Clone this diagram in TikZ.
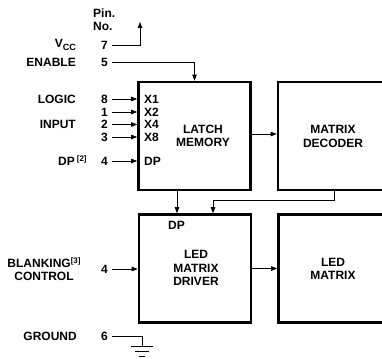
\documentclass[tikz,border=0pt]{standalone}
\usepackage{fontspec}
\setmainfont{Liberation Sans}
\usetikzlibrary{arrows.meta, positioning}

\begin{document}
\begin{tikzpicture}[x=1pt,y=-1pt,
  blk/.style={draw, line width=2.6pt, minimum width=112pt, minimum height=108pt, inner sep=0pt},
  txt/.style={font=\bfseries\fontsize{12}{13.5}\selectfont, align=center, inner sep=0pt},
  lbl/.style={font=\bfseries\fontsize{12}{13.5}\selectfont, inner sep=0pt, text height=8.6pt, text depth=0pt},
  num/.style={lbl, anchor=east},
  wire/.style={line width=0.8pt},
  sig/.style={wire, -{Triangle[length=6pt,width=4.5pt]}},
  sup/.style={}]
\useasboundingbox (0,0) rectangle (382,358);
\clip (0,0) rectangle (382,358);
% blocks
\node[blk] (latch) at (194.5,136) {};
\node[blk] (dec) at (334,136) {};
\node[blk] (drv) at (195,268.5) {};
\node[blk] (ledm) at (334.5,268.5) {};
\node[txt] (latchtxt) at (203,136) {LATCH\\MEMORY};
\node[txt] (dectxt) at (333,136.5) {MATRIX\\DECODER};
\node[txt] (drvtxt) at (196,268) {LED\\MATRIX\\DRIVER};
\node[txt] (ledmtxt) at (333,269) {LED\\MATRIX};
% inputs inside latch
\node[lbl, anchor=west] (x1) at (144,99) {X1};
\node[lbl, anchor=west] (x2) at (144,112) {X2};
\node[lbl, anchor=west] (x4) at (144,124.5) {X4};
\node[lbl, anchor=west] (x8) at (144,137) {X8};
\node[lbl, anchor=west] (dpin) at (144,161) {DP};
\node[lbl] (dpdrv) at (176.5,225) {DP};
% pin numbers
\node[lbl, anchor=west] (pin) at (93,13) {Pin.};
\node[lbl, anchor=west] (pno) at (93,26) {No.};
\node[num] (p7) at (108,45) {7};
\node[num] (p5) at (108,62) {5};
\node[num] (p8) at (108,99) {8};
\node[num] (p1) at (108,112) {1};
\node[num] (p2) at (108,124.5) {2};
\node[num] (p3) at (108,137) {3};
\node[num] (p4) at (108,161) {4};
\node[num] (p4b) at (108,269) {4};
\node[num] (p6) at (108,336.5) {6};
% signal names
\node[lbl, anchor=east] (vcc) at (76,43) {V\raisebox{-3pt}{\fontsize{9}{9}\selectfont CC}};
\node[lbl, anchor=east] (enable) at (76,62) {ENABLE};
\node[lbl, anchor=east] (logic) at (76,99) {LOGIC};
\node[lbl, anchor=east] (input) at (76,124.5) {INPUT};
\node[lbl, anchor=west] (dp) at (58,161) {DP\,\raisebox{4pt}{\fontsize{8}{8}\selectfont[2]}};
\node[txt] (blank) at (44,269) {BLANKING\raisebox{4pt}{\fontsize{8}{8}\selectfont[3]}\\CONTROL\hspace{16pt}};
\node[lbl, anchor=east] (ground) at (77,336.5) {GROUND};
% connectors
\coordinate (vcctop) at (140,22);
\draw[sig] ([xshift=4pt]p7.east) -| (vcctop);
\draw[sig] ([xshift=4pt]p5.east) -| (latch.north);
\foreach \p in {p8,p1,p2,p3,p4}
  \draw[sig] ([xshift=4pt]\p.east) -- (\p -| latch.west);
\draw[sig] ([xshift=4pt]p4b.east) -- (p4b -| drv.west);
\draw[sig] ([yshift=2pt]latch.east) -- ([yshift=2pt]dec.west);
\draw[sig] (drv.east) -- (ledm.west);
\coordinate (dpx) at (177,0);
\draw[sig] (latch.south -| dpx) -- (drv.north -| dpx);
\coordinate (dpbend) at (213,200);
\draw[sig] (dec.south) |- (dpbend) -- (drv.north -| dpbend);
% ground
\coordinate (gnd) at (142,346);
\draw[wire] ([xshift=4pt]p6.east) -| (gnd);
\draw[wire] ([xshift=-11pt]gnd) -- ([xshift=11pt]gnd);
\draw[wire] ([xshift=-7pt,yshift=-5pt]gnd) -- ([xshift=7pt,yshift=-5pt]gnd);
\draw[wire] ([xshift=-3pt,yshift=-10pt]gnd) -- ([xshift=3pt,yshift=-10pt]gnd);
\end{tikzpicture}
\end{document}
